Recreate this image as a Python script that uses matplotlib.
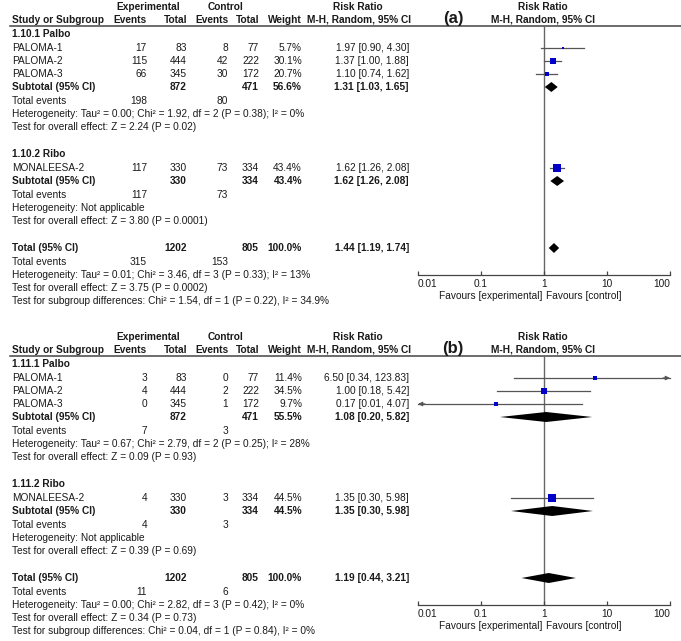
import matplotlib
matplotlib.use('Agg')
import matplotlib.pyplot as plt

plt.rcParams['font.family'] = ['Liberation Sans', 'DejaVu Sans']

W, H = 681, 641
FS = 7.3
TXT = '#1a1a1a'
BLUE = '#0000c8'
LINE = '#555555'

STUDIES = ['PALOMA-1', 'PALOMA-2', 'PALOMA-3', 'MONALEESA-2']
GROUP_OF = [0, 0, 0, 1]
EXP_TOTAL = [83, 444, 345, 330]
CTL_TOTAL = [77, 222, 172, 334]
SUB_EXP_TOTAL = [872, 330]
SUB_CTL_TOTAL = [471, 334]
ALL_EXP_TOTAL = 1202
ALL_CTL_TOTAL = 805

# panel (a)
A_GROUPS = ['1.10.1 Palbo', '1.10.2 Ribo']
A_EXP_EVENTS = [17, 115, 66, 117]
A_CTL_EVENTS = [8, 42, 30, 73]
A_WEIGHT = [5.7, 30.1, 20.7, 43.4]
A_RR = [1.97, 1.37, 1.10, 1.62]
A_LO = [0.90, 1.00, 0.74, 1.26]
A_HI = [4.30, 1.88, 1.62, 2.08]
A_SUB_WEIGHT = [56.6, 43.4]
A_SUB_RR = [1.31, 1.62]
A_SUB_LO = [1.03, 1.26]
A_SUB_HI = [1.65, 2.08]
A_SUB_EVENTS = [(198, 80), (117, 73)]
A_SUB_HET = ['Heterogeneity: Tau\u00b2 = 0.00; Chi\u00b2 = 1.92, df = 2 (P = 0.38); I\u00b2 = 0%',
             'Heterogeneity: Not applicable']
A_SUB_Z = ['Test for overall effect: Z = 2.24 (P = 0.02)',
           'Test for overall effect: Z = 3.80 (P = 0.0001)']
A_TOT = (1.44, 1.19, 1.74)
A_TOT_EVENTS = (315, 153)
A_TOT_HET = 'Heterogeneity: Tau\u00b2 = 0.01; Chi\u00b2 = 3.46, df = 3 (P = 0.33); I\u00b2 = 13%'
A_TOT_Z = 'Test for overall effect: Z = 3.75 (P = 0.0002)'
A_SG = 'Test for subgroup differences: Chi\u00b2 = 1.54, df = 1 (P = 0.22), I\u00b2 = 34.9%'

# panel (b)
B_GROUPS = ['1.11.1 Palbo', '1.11.2 Ribo']
B_EXP_EVENTS = [3, 4, 0, 4]
B_CTL_EVENTS = [0, 2, 1, 3]
B_WEIGHT = [11.4, 34.5, 9.7, 44.5]
B_RR = [6.50, 1.00, 0.17, 1.35]
B_LO = [0.34, 0.18, 0.01, 0.30]
B_HI = [123.83, 5.42, 4.07, 5.98]
B_SUB_WEIGHT = [55.5, 44.5]
B_SUB_RR = [1.08, 1.35]
B_SUB_LO = [0.20, 0.30]
B_SUB_HI = [5.82, 5.98]
B_SUB_EVENTS = [(7, 3), (4, 3)]
B_SUB_HET = ['Heterogeneity: Tau\u00b2 = 0.67; Chi\u00b2 = 2.79, df = 2 (P = 0.25); I\u00b2 = 28%',
             'Heterogeneity: Not applicable']
B_SUB_Z = ['Test for overall effect: Z = 0.09 (P = 0.93)',
           'Test for overall effect: Z = 0.39 (P = 0.69)']
B_TOT = (1.19, 0.44, 3.21)
B_TOT_EVENTS = (11, 6)
B_TOT_HET = 'Heterogeneity: Tau\u00b2 = 0.00; Chi\u00b2 = 2.82, df = 3 (P = 0.42); I\u00b2 = 0%'
B_TOT_Z = 'Test for overall effect: Z = 0.34 (P = 0.73)'
B_SG = 'Test for subgroup differences: Chi\u00b2 = 0.04, df = 1 (P = 0.84), I\u00b2 = 0%'

TICKS = [0.01, 0.1, 1, 10, 100]
TICK_LABELS = ['0.01', '0.1', '1', '10', '100']

# column x positions (pixels)
X_NAME = 12
X_EXP_EV, X_EXP_TOT = 147, 187
X_CTL_EV, X_CTL_TOT = 228, 259
X_WEIGHT = 302
X_RR = 409
X_AX0, X_AX1 = 418, 670


def rr_text(r, l, h):
    return f'{r:.2f} [{l:.2f}, {h:.2f}]'


def t(ax, x, y, s, ha='left', bold=False, size=FS):
    ax.text(x, y, s, ha=ha, va='center', fontsize=size, color=TXT,
            fontweight='bold' if bold else 'normal')


def diamond(fax, y, r, l, h, half=5):
    fax.fill([l, r, h, r], [y, y - half, y, y + half], color='black', lw=0, zorder=4)


def arrow_head(fax, x, y, back):
    # small filled head at the clipped end of a CI line
    fax.annotate('', xy=(x, y), xytext=(back, 0), textcoords='offset points',
                 annotation_clip=False,
                 arrowprops=dict(arrowstyle='-|>', color=LINE, lw=0.9,
                                 mutation_scale=6, shrinkA=0, shrinkB=0))


def draw_panel(tax, y0, tag, groups, exp_ev, ctl_ev, weight, rr, lo, hi,
               sub_w, sub_rr, sub_lo, sub_hi, sub_events, sub_het, sub_z,
               tot, tot_events, tot_het, tot_z, sg):
    # header
    t(tax, 148, y0 - 19, 'Experimental', 'center', True)
    t(tax, 226, y0 - 19, 'Control', 'center', True)
    t(tax, 358, y0 - 19, 'Risk Ratio', 'center', True)
    t(tax, 543, y0 - 19, 'Risk Ratio', 'center', True)
    t(tax, X_NAME, y0 - 6, 'Study or Subgroup', 'left', True)
    t(tax, X_EXP_EV, y0 - 6, 'Events', 'right', True)
    t(tax, X_EXP_TOT, y0 - 6, 'Total', 'right', True)
    t(tax, X_CTL_EV, y0 - 6, 'Events', 'right', True)
    t(tax, X_CTL_TOT, y0 - 6, 'Total', 'right', True)
    t(tax, X_WEIGHT, y0 - 6, 'Weight', 'right', True)
    t(tax, 359, y0 - 6, 'M-H, Random, 95% CI', 'center', True)
    t(tax, 543, y0 - 6, 'M-H, Random, 95% CI', 'center', True)
    t(tax, 453, y0 - 8, tag, 'center', True, 12)
    tax.plot([10, W], [y0, y0], color='#444444', lw=1.1)

    fax = tax.figure.add_axes([X_AX0 / W, 1 - (y0 + 249) / H,
                               (X_AX1 - X_AX0) / W, 249 / H])
    fax.patch.set_alpha(0)
    fax.set_xscale('log')
    fax.set_xlim(0.01, 100)
    fax.set_ylim(y0 + 249, y0)
    for s in ['top', 'left', 'right']:
        fax.spines[s].set_visible(False)
    fax.spines['bottom'].set_color('#444444')
    fax.spines['bottom'].set_linewidth(0.9)
    fax.set_yticks([])
    fax.set_xticks(TICKS, TICK_LABELS)
    fax.minorticks_off()
    fax.tick_params(axis='x', direction='in', length=3, width=0.9, color='#444444',
                    labelsize=FS, labelcolor=TXT, pad=3)
    ticks = fax.xaxis.get_major_ticks()
    ticks[0].label1.set_ha('left')
    ticks[-1].label1.set_ha('right')
    fax.axvline(1, color='#666666', lw=1.0, zorder=1)
    fax.text(0.95, y0 + 270, 'Favours [experimental]', ha='right', va='center',
             fontsize=FS, color=TXT, clip_on=False)
    fax.text(1.06, y0 + 270, 'Favours [control]', ha='left', va='center',
             fontsize=FS, color=TXT, clip_on=False)

    study_rows = [[22, 35, 48], [142]]
    sub_rows = [61, 155]
    title_rows = [8, 128]
    k = [0, 0]
    for i, name in enumerate(STUDIES):
        g = GROUP_OF[i]
        y = y0 + study_rows[g][k[g]]
        k[g] += 1
        t(tax, X_NAME, y, name)
        t(tax, X_EXP_EV, y, str(exp_ev[i]), 'right')
        t(tax, X_EXP_TOT, y, str(EXP_TOTAL[i]), 'right')
        t(tax, X_CTL_EV, y, str(ctl_ev[i]), 'right')
        t(tax, X_CTL_TOT, y, str(CTL_TOTAL[i]), 'right')
        t(tax, X_WEIGHT, y, f'{weight[i]:.1f}%', 'right')
        t(tax, X_RR, y, rr_text(rr[i], lo[i], hi[i]), 'right')
        l, h = max(lo[i], 0.01), min(hi[i], 100)
        fax.plot([l, h], [y, y], color=LINE, lw=0.9, zorder=2, clip_on=False)
        if hi[i] > 100:
            arrow_head(fax, 100, y, -5)
        if lo[i] <= 0.01:
            arrow_head(fax, 0.01, y, 5)
        side = 1.07 * weight[i] ** 0.5
        fax.plot(rr[i], y, marker='s', ms=side * 0.72, color=BLUE, mec=BLUE,
                 mew=0, zorder=3)

    for g, gname in enumerate(groups):
        t(tax, X_NAME, y0 + title_rows[g], gname, bold=True)
        y = y0 + sub_rows[g]
        t(tax, X_NAME, y, 'Subtotal (95% CI)', bold=True)
        t(tax, X_EXP_TOT, y, str(SUB_EXP_TOTAL[g]), 'right', True)
        t(tax, X_CTL_TOT, y, str(SUB_CTL_TOTAL[g]), 'right', True)
        t(tax, X_WEIGHT, y, f'{sub_w[g]:.1f}%', 'right', True)
        t(tax, X_RR, y, rr_text(sub_rr[g], sub_lo[g], sub_hi[g]), 'right', True)
        diamond(fax, y, sub_rr[g], sub_lo[g], sub_hi[g])
        t(tax, X_NAME, y + 14, 'Total events')
        t(tax, X_EXP_EV, y + 14, str(sub_events[g][0]), 'right')
        t(tax, X_CTL_EV, y + 14, str(sub_events[g][1]), 'right')
        t(tax, X_NAME, y + 27, sub_het[g])
        t(tax, X_NAME, y + 40, sub_z[g])

    y = y0 + 222
    t(tax, X_NAME, y, 'Total (95% CI)', bold=True)
    t(tax, X_EXP_TOT, y, str(ALL_EXP_TOTAL), 'right', True)
    t(tax, X_CTL_TOT, y, str(ALL_CTL_TOTAL), 'right', True)
    t(tax, X_WEIGHT, y, '100.0%', 'right', True)
    t(tax, X_RR, y, rr_text(*tot), 'right', True)
    diamond(fax, y, *tot)
    t(tax, X_NAME, y + 14, 'Total events')
    t(tax, X_EXP_EV, y + 14, str(tot_events[0]), 'right')
    t(tax, X_CTL_EV, y + 14, str(tot_events[1]), 'right')
    t(tax, X_NAME, y + 27, tot_het)
    t(tax, X_NAME, y + 40, tot_z)
    t(tax, X_NAME, y + 53, sg)


fig = plt.figure(figsize=(W / 100, H / 100), dpi=100)
tax = fig.add_axes([0, 0, 1, 1])
tax.set_xlim(0, W)
tax.set_ylim(H, 0)
tax.axis('off')

draw_panel(tax, 26, '(a)', A_GROUPS, A_EXP_EVENTS, A_CTL_EVENTS, A_WEIGHT, A_RR, A_LO, A_HI,
           A_SUB_WEIGHT, A_SUB_RR, A_SUB_LO, A_SUB_HI, A_SUB_EVENTS, A_SUB_HET, A_SUB_Z,
           A_TOT, A_TOT_EVENTS, A_TOT_HET, A_TOT_Z, A_SG)
draw_panel(tax, 356, '(b)', B_GROUPS, B_EXP_EVENTS, B_CTL_EVENTS, B_WEIGHT, B_RR, B_LO, B_HI,
           B_SUB_WEIGHT, B_SUB_RR, B_SUB_LO, B_SUB_HI, B_SUB_EVENTS, B_SUB_HET, B_SUB_Z,
           B_TOT, B_TOT_EVENTS, B_TOT_HET, B_TOT_Z, B_SG)

fig.savefig('out.png', dpi=100)
